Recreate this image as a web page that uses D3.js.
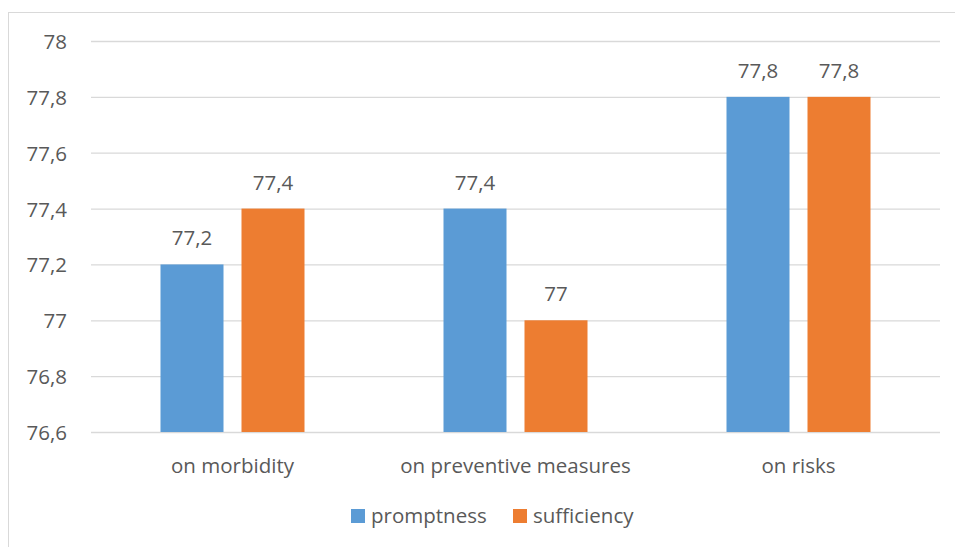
<!DOCTYPE html>
<html><head><meta charset="utf-8">
<script src="https://cdn.jsdelivr.net/npm/d3@7"></script>
<style>
html,body{margin:0;padding:0;background:#fff;}
svg{display:block;}
text{font-family:"Open Sans",sans-serif;fill:#595959;}
</style></head>
<body>
<svg id="c" width="955" height="547"></svg>
<script>
const categories = ["on morbidity", "on preventive measures", "on risks"];
const seriesNames = ["promptness", "sufficiency"];
const promptness = [77.2, 77.4, 77.8];
const sufficiency = [77.4, 77.0, 77.8];
const tickValues = [76.6, 76.8, 77.0, 77.2, 77.4, 77.6, 77.8, 78.0];
const tickLabels = ["76,6", "76,8", "77", "77,2", "77,4", "77,6", "77,8", "78"];
const colors = ["#5B9BD5", "#ED7D31"];

const svg = d3.select("#c");
const plot = {left: 91, right: 940, top: 41, bottom: 432};
const FS = "20.5px";

svg.append("rect").attr("x", 8.5).attr("y", 12.5).attr("width", 960).attr("height", 560)
  .attr("fill", "none").attr("stroke", "#d9d9d9").attr("stroke-width", 1);

const y = d3.scaleLinear().domain([76.6, 78]).range([plot.bottom, plot.top]);
const x0 = d3.scaleBand().domain(categories).range([plot.left, plot.right]);
const groupW = 144;
const x1 = d3.scaleBand().domain(seriesNames).range([0, groupW]).paddingInner(36/162).paddingOuter(0);

const yAxis = d3.axisLeft(y).tickValues(tickValues)
  .tickFormat((d, i) => tickLabels[i]).tickSize(-(plot.right - plot.left)).tickPadding(24);
const ga = svg.append("g").attr("transform", `translate(${plot.left},0)`).call(yAxis);
ga.select(".domain").remove();
ga.selectAll(".tick line").attr("stroke", "#d9d9d9").attr("stroke-width", 1.3);
ga.selectAll(".tick text").style("font-size", FS).attr("fill", "#595959").attr("dy", "7.5px");

const data = categories.map((c, i) => ({cat: c, vals: [promptness[i], sufficiency[i]]}));
const groups = svg.selectAll("g.grp").data(data).join("g").attr("class", "grp")
  .attr("transform", d => `translate(${x0(d.cat) + (x0.bandwidth() - groupW) / 2},0)`);

const fmt = v => String(+v.toFixed(1)).replace(".", ",");
groups.selectAll("rect").data(d => d.vals.map((v, j) => ({s: seriesNames[j], v, j})))
  .join("rect")
  .attr("x", d => x1(d.s)).attr("width", x1.bandwidth())
  .attr("y", d => y(d.v)).attr("height", d => y(76.6) - y(d.v))
  .attr("fill", d => colors[d.j]);
groups.selectAll("text.lbl").data(d => d.vals.map((v, j) => ({s: seriesNames[j], v, j})))
  .join("text").attr("class", "lbl")
  .attr("x", d => x1(d.s) + x1.bandwidth() / 2).attr("y", d => y(d.v) - 19)
  .attr("text-anchor", "middle").style("font-size", FS).text(d => fmt(d.v));

svg.selectAll("text.cat").data(categories).join("text").attr("class", "cat")
  .attr("x", d => x0(d) + x0.bandwidth() / 2).attr("y", 473)
  .attr("text-anchor", "middle").style("font-size", FS).text(d => d);

const leg = [{x: 351, tx: 371}, {x: 513, tx: 533}];
seriesNames.forEach((s, i) => {
  svg.append("rect").attr("x", leg[i].x).attr("y", 509).attr("width", 14).attr("height", 14).attr("fill", colors[i]);
  svg.append("text").attr("x", leg[i].tx).attr("y", 523).style("font-size", FS).text(s);
});
</script>
</body></html>
